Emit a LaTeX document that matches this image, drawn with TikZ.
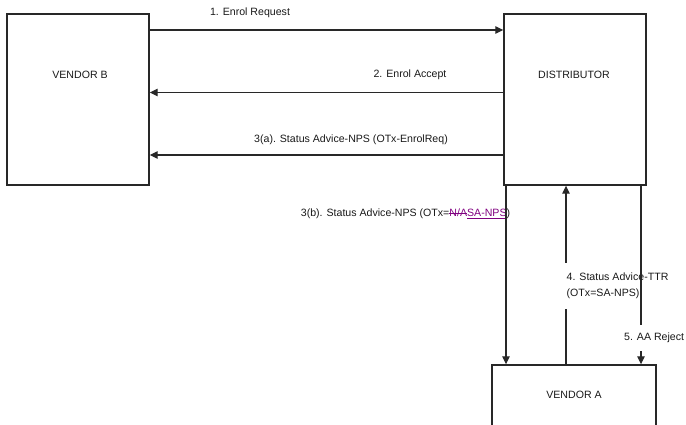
\documentclass[tikz,border=0pt]{standalone}
\usepackage{fontspec}
\setmainfont{Liberation Sans}
\usetikzlibrary{arrows.meta}
\definecolor{editpurple}{RGB}{128,0,128}
\definecolor{linegray}{RGB}{40,40,40}
\newsavebox\editbox
\newcommand{\strikeword}[1]{\sbox\editbox{#1}\rlap{\raisebox{2.9pt}{\rule{\wd\editbox}{0.6pt}}}\usebox\editbox}
\newcommand{\underword}[1]{\sbox\editbox{#1}\rlap{\raisebox{-1.6pt}{\rule{\wd\editbox}{0.6pt}}}\usebox\editbox}

\begin{document}
\begin{tikzpicture}[
    x=1pt, y=-1pt,
    >={Triangle[length=8pt,width=7.5pt]},
    party/.style={
        draw=linegray,
        rectangle,
        line width=1.4pt,
        inner sep=0pt
    },
    msg/.style={
        font=\fontsize{10.6}{16}\selectfont,
        text=black!90,
        inner sep=1pt
    },
    arrow/.style={->, line width=1.1pt, draw=linegray},
    plain/.style={line width=1.1pt, draw=linegray}
]
\useasboundingbox (0,0) rectangle (686,425);

\node[party, minimum width=142pt, minimum height=171pt] (vendorB) at (78,99.5) {};
\node[party, minimum width=142pt, minimum height=171pt] (dist) at (575,99.5) {};
\node[party, minimum width=164pt, minimum height=80pt] (vendorA) at (574,405) {};

\node[msg] (vendorBtxt) at (80,75) {VENDOR B};
\node[msg] (disttxt) at (574,75) {DISTRIBUTOR};
\node[msg] (vendorAtxt) at (574,395) {VENDOR A};

% message rows and columns
\coordinate (row1) at (0,30);
\coordinate (row2) at (0,92.5);
\coordinate (row3) at (0,155);
\coordinate (col3b) at (506,0);
\coordinate (col4) at (566,0);
\coordinate (col5) at (641,0);

\node[msg] (lbl1) at (250,13) {1. Enrol Request};
\node[msg] (lbl2) at (410,75) {2. Enrol Accept};
\node[msg] (lbl3a) at (351,140) {3(a). Status Advice-NPS (OTx-EnrolReq)};
\node[msg] (lbl3b) at (405.5,214) {3(b). Status Advice-NPS (OTx=\textcolor{editpurple}{\strikeword{N/A}\underword{SA-NPS}})};
\node[msg, anchor=west, align=left, inner xsep=0.5pt, inner ysep=10pt] (lbl4) at (566,286)
    {4. Status Advice-TTR\\(OTx=SA-NPS)};
\node[msg, anchor=west, inner ysep=8pt] (lbl5) at (623,338) {5. AA Reject};

\draw[arrow] (vendorB.east |- row1) -- (dist.west |- row1);
\draw[arrow] (dist.west |- row2) -- (vendorB.east |- row2);
\draw[arrow] (dist.west |- row3) -- (vendorB.east |- row3);

\draw[arrow] (dist.south -| col3b) -- (vendorA.north -| col3b);
\draw[plain] (vendorA.north -| col4) -- (lbl4.south -| col4);
\draw[arrow] (lbl4.north -| col4) -- (dist.south -| col4);
\draw[plain] (dist.south -| col5) -- (lbl5.north -| col5);
\draw[arrow] (lbl5.south -| col5) -- (vendorA.north -| col5);

\end{tikzpicture}
\end{document}
